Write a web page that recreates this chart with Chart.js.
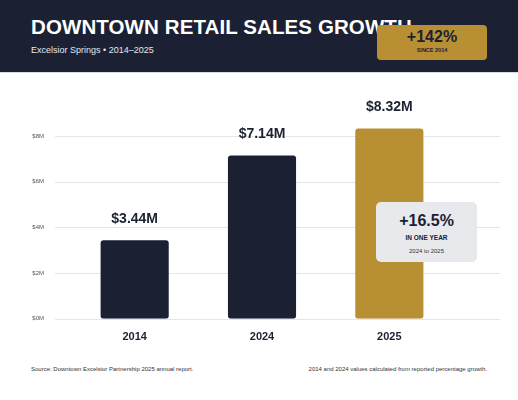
<!DOCTYPE html>
<html><head><meta charset="utf-8">
<script src="https://cdn.jsdelivr.net/npm/chart.js"></script>
<style>
body{margin:0;width:518px;height:400px;background:#fff;font-family:"Liberation Sans",Arial,sans-serif;position:relative;overflow:hidden}
#hdr{position:absolute;left:0;top:0;width:518px;height:72px;background:#1b2133;border-bottom:1px solid #d8dbe0}
#title{position:absolute;left:31px;top:15px;color:#fff;font-weight:bold;font-size:20.5px;letter-spacing:0.1px}
#sub{position:absolute;left:31px;top:45px;color:#e8e8ee;font-size:9px}
#badge{position:absolute;left:377px;top:25px;width:110px;height:35px;background:#b98f34;border-radius:4px;text-align:center;color:#1b2133}
#badge .b{font-weight:bold;font-size:16px;margin-top:3px}
#badge .s{font-weight:bold;font-size:5.5px;margin-top:1px}
#wrap{position:absolute;left:0;top:95px;width:518px;height:253px}
#call{position:absolute;left:376px;top:202px;width:101px;height:60px;background:#e8e9ec;border-radius:5px;text-align:center;color:#1b2133}
#call .b{font-weight:bold;font-size:16px;margin-top:10px}
#call .m{font-weight:bold;font-size:6.5px;margin-top:4px}
#call .s{font-size:6px;margin-top:7px;color:#333}
.foot{position:absolute;top:366px;font-size:6px;color:#333}
</style></head><body>
<div id="hdr"><div id="title">DOWNTOWN RETAIL SALES GROWTH</div><div id="sub">Excelsior Springs • 2014–2025</div></div>
<div id="badge"><div class="b">+142%</div><div class="s">SINCE 2014</div></div>
<div id="wrap"><canvas id="c"></canvas></div>
<div id="call"><div class="b">+16.5%</div><div class="m">IN ONE YEAR</div><div class="s">2024 to 2025</div></div>
<div class="foot" style="left:31px">Source: Downtown Excelsior Partnership 2025 annual report.</div>
<div class="foot" style="right:31px">2014 and 2024 values calculated from reported percentage growth.</div>
<script>
const categories=["2014","2024","2025"];
const salesMillions=[3.44,7.14,8.32];
const valueLabels=["$3.44M","$7.14M","$8.32M"];
const barColors=["#1b2133","#1b2133","#b98f34"];
const tickValues=[0,2,4,6,8];
const gridPlugin={id:"gl",beforeDatasetsDraw(ch){const ctx=ch.ctx,y=ch.scales.y;ctx.save();ctx.strokeStyle="#e6e6e6";ctx.lineWidth=1;tickValues.forEach(v=>{const p=Math.round(y.getPixelForValue(v))+0.5;ctx.beginPath();ctx.moveTo(55,p);ctx.lineTo(500,p);ctx.stroke();});ctx.restore();}};
const labelPlugin={id:"vl",afterDatasetsDraw(ch){const ctx=ch.ctx;const m=ch.getDatasetMeta(0);ctx.save();ctx.font="bold 14px 'Liberation Sans',Arial";ctx.fillStyle="#1b2133";ctx.textAlign="center";ctx.textBaseline="bottom";m.data.forEach((b,i)=>ctx.fillText(valueLabels[i],b.x,b.y-14));ctx.restore();}};
new Chart(document.getElementById("c"),{type:"bar",
data:{labels:categories,datasets:[{data:salesMillions,backgroundColor:barColors,borderRadius:3,borderSkipped:false,categoryPercentage:0.535,barPercentage:1}]},
options:{responsive:true,maintainAspectRatio:false,animation:false,
layout:{padding:{left:0,right:65,top:21,bottom:0}},
plugins:{legend:{display:false},tooltip:{enabled:false}},
scales:{x:{grid:{display:false},border:{display:false},ticks:{color:"#1b2133",font:{family:"Liberation Sans",weight:"bold",size:11},padding:4}},
y:{min:0,max:8.8,afterFit(s){s.width=71;},afterBuildTicks(a){a.ticks=tickValues.map(v=>({value:v}));},border:{display:false},grid:{display:false},ticks:{color:"#555",font:{size:6},padding:19,callback:v=>"$"+v+"M"}}}},
plugins:[gridPlugin,labelPlugin]});
</script></body></html>
